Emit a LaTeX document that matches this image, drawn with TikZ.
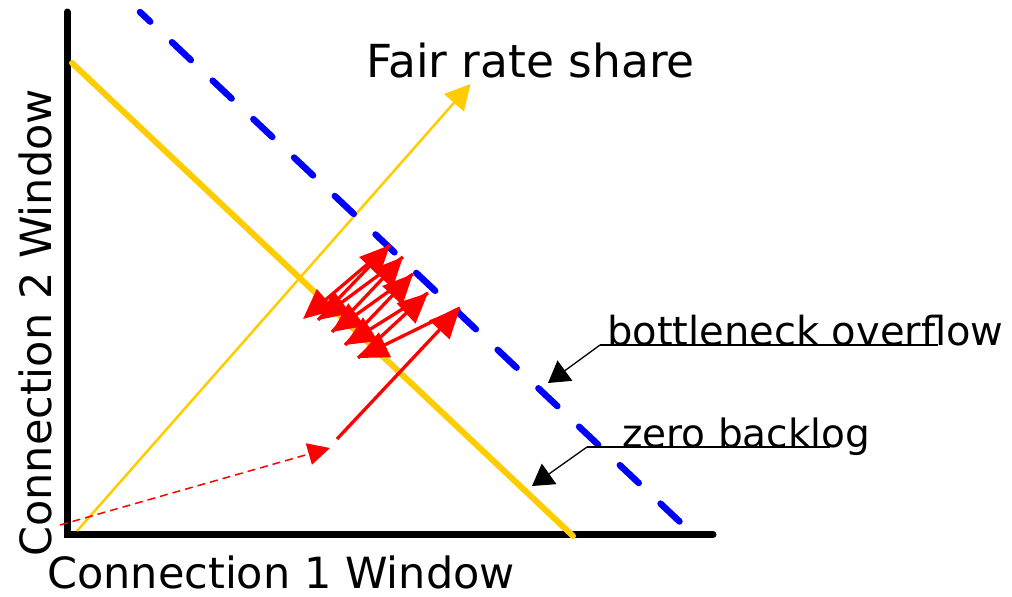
\documentclass[tikz,border=0pt]{standalone}
\usepackage{fontspec}
\setmainfont{DejaVu Sans}
\usetikzlibrary{arrows.meta}
\definecolor{gold}{RGB}{255,204,0}
\definecolor{pureblue}{RGB}{0,0,255}
\definecolor{purered}{RGB}{255,0,0}
\tikzset{
  axisline/.style={line width=7pt, line cap=round, line join=miter, draw=black},
  zeroline/.style={line width=6pt, line cap=round, draw=gold},
  fairline/.style={line width=2.5pt, draw=gold, -{Triangle[length=25pt,width=26pt]}},
  overflowline/.style={line width=6.5pt, line cap=round, draw=pureblue, dash pattern=on 26pt off 30pt, dash phase=12pt},
  redarrow/.style={line width=3.3pt, draw=purered, -{Triangle[length=30pt,width=27pt]}},
  reddashed/.style={line width=1.5pt, draw=purered, dash pattern=on 8pt off 5pt, -{Triangle[length=22pt,width=22pt]}},
  leader/.style={line width=1.3pt, draw=black, -{Triangle[length=21pt,width=25pt]}},
  underline/.style={line width=1.5pt, draw=black},
  lbl/.style={inner sep=0pt, anchor=base west, text=black}
}
\begin{document}
\begin{tikzpicture}[x=1pt,y=-1pt]
\useasboundingbox (0,0) rectangle (1012,597);
% axes
\coordinate (ytop) at (67,12);
\coordinate (orig) at (67,534.5);
\coordinate (xend) at (713,534.5);
\draw[axisline] (ytop) -- (orig) -- (xend);
% zero backlog line
\coordinate (z1) at (72,63);
\coordinate (z2) at (573,536);
\draw[zeroline] (z1) -- (z2);
% fair rate share line
\coordinate (f1) at (77,531);
\coordinate (f2) at (470.5,84);
\draw[fairline] (f1) -- (f2);
% bottleneck overflow line
\coordinate (b1) at (140,12);
\coordinate (b2) at (680,522);
\draw[overflowline] (b1) -- (b2);
% red trajectory
\coordinate (r0) at (60,525);
\coordinate (r1) at (330,448);
\coordinate (p0) at (337,439);
\coordinate (u1) at (460,308);
\coordinate (d1) at (358,358);
\coordinate (u2) at (428,293);
\coordinate (d2) at (345,345);
\coordinate (u3) at (413,274);
\coordinate (d3) at (332,332);
\coordinate (u4) at (403,257);
\coordinate (d4) at (318,320);
\coordinate (u5) at (390,245);
\coordinate (d5) at (303,319);
\draw[reddashed] (r0) -- (r1);
\draw[redarrow] (p0) -- (u1);
\draw[redarrow] (u1) -- (d1);
\draw[redarrow] (d1) -- (u2);
\draw[redarrow] (u2) -- (d2);
\draw[redarrow] (d2) -- (u3);
\draw[redarrow] (u3) -- (d3);
\draw[redarrow] (d3) -- (u4);
\draw[redarrow] (u4) -- (d4);
\draw[redarrow] (d4) -- (u5);
\draw[redarrow] (u5) -- (d5);
% labels
\node[lbl, font=\fontsize{45.5}{50}\selectfont] (fair) at (366,77) {Fair rate share};
\node[lbl, font=\fontsize{43}{48}\selectfont] (xlab) at (47,588) {Connection 1 Window};
\node[lbl, font=\fontsize{43}{48}\selectfont, rotate=90] (ylab) at (51,557) {Connection 2 Window};
\node[lbl, font=\fontsize{40}{44}\selectfont] (bott) at (607,345) {bottleneck overflow};
\node[lbl, font=\fontsize{39}{43}\selectfont] (zero) at (622,447) {zero backlog};
% leaders
\coordinate (bl0) at (600,345);
\coordinate (bl1) at (938,345);
\coordinate (bt) at (548,383);
\draw[underline] (bl0) -- (bl1);
\draw[leader] (bl0) -- (bt);
\coordinate (zl0) at (587,447);
\coordinate (zl1) at (830,447);
\coordinate (zt) at (532,486);
\draw[underline] (zl0) -- (zl1);
\draw[leader] (zl0) -- (zt);
\end{tikzpicture}
\end{document}
